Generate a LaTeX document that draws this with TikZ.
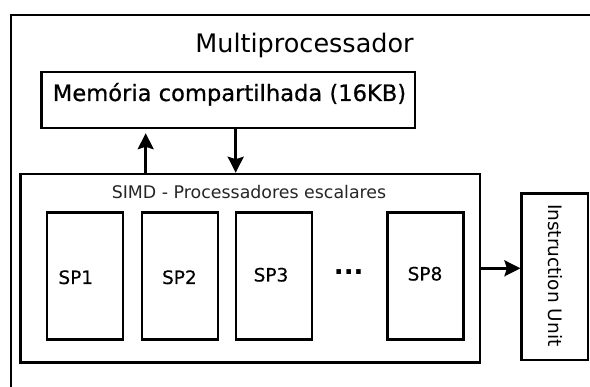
\documentclass[tikz,border=0pt]{standalone}
\usepackage{fontspec}
\setmainfont{DejaVu Sans}
\newfontfamily\semibold[FakeBold=0.6]{DejaVu Sans}
\newfontfamily\lightbold[FakeBold=0.3]{DejaVu Sans}
\usetikzlibrary{arrows.meta}
\newcommand{\fs}[1]{\fontsize{#1}{#1}\selectfont}
\tikzset{
  box/.style={draw=black, line width=2.5pt, inner sep=0pt, fill=white},
  spbox/.style={box, minimum width=76pt, minimum height=127pt},
  arr/.style={line width=2.5pt, -{Stealth[length=16pt,width=16pt,inset=2.5pt]}},
  txt/.style={inner sep=0pt, anchor=base, text=black}
}
\begin{document}
\begin{tikzpicture}[x=1pt,y=-1pt]
\useasboundingbox (0,0) rectangle (590,387);
\fill[white] (0,0) rectangle (590,387);
\begin{scope}
\clip (0,0) rectangle (590,387);
\draw[line width=2.8pt] (11,15) rectangle (620,420);
\end{scope}
\node[txt] (title) at (304.5,53) {\fs{25.5}Multiprocessador};
\node[box, minimum width=373.3pt, minimum height=56pt] (mem) at (228.3,100) {};
\node[txt] (memtxt) at (229.5,101) {\semibold\fs{22.6}Memória compartilhada (16KB)};
\node[box, minimum width=459.3pt, minimum height=188.7pt] (simd) at (250.3,268.3) {};
\node[txt, text=black!85] (simdtxt) at (249,199) {\fs{17.4}SIMD - Processadores escalares};
\node[spbox] (sp1) at (85,275.8) {};
\node[spbox] (sp2) at (180,275.8) {};
\node[spbox] (sp3) at (274,275.8) {};
\node[spbox] (sp8) at (425.3,275.8) {};
\node[txt] (l1) at (75.8,284) {\lightbold\fs{18.5}SP1};
\node[txt] (l2) at (179.4,284) {\lightbold\fs{18.5}SP2};
\node[txt] (l3) at (271,281.5) {\lightbold\fs{18.5}SP3};
\node[txt] (l8) at (425,280.5) {\lightbold\fs{18.5}SP8};
\node[inner sep=0pt] (dots) at (348.8,272) {\fs{26}\textbf{...}};
\node[box, minimum width=66.3pt, minimum height=166.7pt] (iu) at (554.8,276.7) {};
\node[inner sep=0pt, rotate=-90] (iutxt) at (555.5,275.3) {\fs{18.5}Instruction Unit};
\coordinate (upx) at (145.7,0);
\coordinate (dnx) at (235.7,0);
\draw[arr, shorten >=4pt] (upx |- simd.north) -- (upx |- mem.south);
\draw[arr] (dnx |- mem.south) -- (dnx |- simd.north);
\draw[arr] (simd.east) -- (simd.east -| iu.west);
\end{tikzpicture}
\end{document}
